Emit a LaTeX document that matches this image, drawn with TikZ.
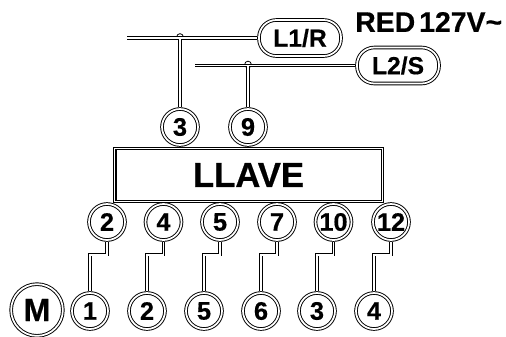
\documentclass[tikz,border=0pt]{standalone}
\usepackage{fontspec}
\setmainfont[BoldFeatures={FakeBold=0.5}]{Liberation Sans}
\usepackage{tikz}
\usetikzlibrary{positioning, calc}

\tikzset{
  ring/.style={circle, draw, double=white, fill=white, line width=.7pt, double distance=1.3pt,
    inner sep=0pt, outer sep=1.35pt, minimum size=27pt, font=\fontsize{19}{20}\selectfont\bfseries},
  tag/.style={rounded corners=13pt, draw, double=white, fill=white, line width=.7pt, double distance=1.3pt,
    inner sep=0pt, outer sep=1.35pt, minimum width=61.5pt, minimum height=27pt, font=\fontsize{18.5}{20}\selectfont\bfseries},
  wire/.style={draw, double=white, line width=.7pt, double distance=1.1pt},
  junction/.style={circle, draw, fill=white, line width=.6pt, inner sep=0pt, minimum size=5pt},
}

\begin{document}
\begin{tikzpicture}[x=.75pt, y=-.75pt]
  \useasboundingbox (0,0) rectangle (506,336);

  % upper part
  \node[tag] (lr) at (300,38) {L1/R};
  \node[tag] (ls) at (398,65.5) {L2/S};
  \node[font=\fontsize{21.3}{23}\selectfont\bfseries, anchor=west, inner sep=0pt] (red) at (355,22) {RED\hspace{3pt}127V\textasciitilde};
  \node[ring] (in3) at (180,127) {3};
  \node[ring] (in9) at (248,127) {9};
  \coordinate (endr) at (127,38);
  \coordinate (ends) at (195,65.5);
  \node[junction] (jr) at (180,37) {};
  \node[junction] (js) at (248,64.5) {};
  \draw[wire] (endr) -- (lr.west) (lr.west -| in3.north) -- (in3.north);
  \draw[wire] (ends) -- (ls.west) (ls.west -| in9.north) -- (in9.north);

  % box
  \node[draw, double=white, fill=white, line width=.8pt, double distance=.9pt, inner sep=0pt, outer sep=1.25pt,
    minimum width=200.5pt, minimum height=39.5pt, font=\fontsize{26}{28}\selectfont\bfseries] (llave) at (248.5,175) {LLAVE};

  % lower terminals
  \foreach \i/\xa/\ta/\xb/\tb in {1/107/2/90/1, 2/163.5/4/147/2, 3/220/5/204/5, 4/277/7/261/6, 5/333.5/10/317/3, 6/391/12/374/4} {
    \node[ring] (up\i) at (\xa,222) {\ta};
    \node[ring] (dn\i) at (\xb,311) {\tb};
    \draw[wire] (up\i.south) -- ++(0,13) -| (dn\i.north);
  }
  \node[ring, minimum size=38.8pt, font=\fontsize{24}{26}\selectfont\bfseries] (motor) at (37,310) {M};
\end{tikzpicture}
\end{document}
